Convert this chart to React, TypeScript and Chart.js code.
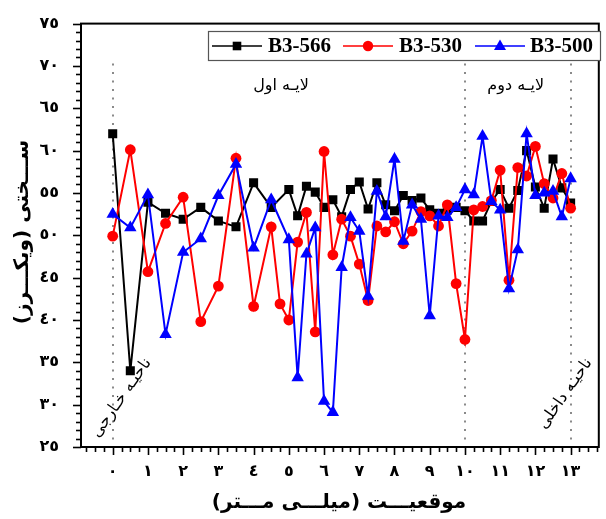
import React, { useEffect, useRef } from 'react';
import { Chart, registerables } from 'chart.js';

Chart.register(...registerables);

const AR_DIGITS = ['٠', '١', '٢', '٣', '٤', '٥', '٦', '٧', '٨', '٩'];
const toArabic = (n: number) => String(n).replace(/[0-9]/g, (d) => AR_DIGITS[+d]);

// ---- axes ----
const xTicks = [0, 1, 2, 3, 4, 5, 6, 7, 8, 9, 10, 11, 12, 13];
const yTicks = [25, 30, 35, 40, 45, 50, 55, 60, 65, 70, 75];
const xTitle = 'موقعیـــت (میلـــی مـــتر)';
const yTitle = 'ســـختی (ویکـــرز)';

// ---- series ----
const seriesNames = ['B3-566', 'B3-530', 'B3-500'];

const b566X = [0, 0.5, 1, 1.5, 2, 2.5, 3, 3.5, 4, 4.5, 5, 5.25, 5.5, 5.75, 6, 6.25, 6.5, 6.75, 7, 7.25, 7.5, 7.75, 8, 8.25, 8.5, 8.75, 9, 9.25, 9.5, 9.75, 10, 10.25, 10.5, 10.75, 11, 11.25, 11.5, 11.75, 12, 12.25, 12.5, 12.75, 13];
const b566Y = [62, 34, 53.9, 52.6, 51.9, 53.3, 51.7, 51.0, 56.2, 53.3, 55.4, 52.3, 55.8, 55.1, 53.3, 54.2, 52.2, 55.4, 56.3, 53.1, 56.2, 53.6, 52.9, 54.7, 54.1, 54.4, 53.0, 52.6, 53.0, 53.3, 52.9, 51.7, 51.7, 54.0, 55.4, 53.2, 55.3, 60.0, 55.7, 53.2, 59.0, 55.6, 53.8];

const b530X = [0, 0.5, 1, 1.5, 2, 2.5, 3, 3.5, 4, 4.5, 4.75, 5, 5.25, 5.5, 5.75, 6, 6.25, 6.5, 6.75, 7, 7.25, 7.5, 7.75, 8, 8.25, 8.5, 8.75, 9, 9.25, 9.5, 9.75, 10, 10.25, 10.5, 10.75, 11, 11.25, 11.5, 11.75, 12, 12.25, 12.5, 12.75, 13];
const b530Y = [49.9, 60.1, 45.7, 51.4, 54.5, 39.8, 44.0, 59.1, 41.6, 51.0, 41.9, 40.0, 49.2, 52.7, 38.6, 59.9, 47.7, 51.9, 49.9, 46.6, 42.3, 51.1, 50.4, 51.6, 49.0, 50.5, 52.8, 52.3, 51.1, 53.6, 44.3, 37.7, 53.0, 53.4, 54.1, 57.7, 44.7, 58.0, 57.0, 60.5, 56.1, 54.4, 57.3, 53.2];

const b500X = [0, 0.5, 1, 1.5, 2, 2.5, 3, 3.5, 4, 4.5, 5, 5.25, 5.5, 5.75, 6, 6.25, 6.5, 6.75, 7, 7.25, 7.5, 7.75, 8, 8.25, 8.5, 8.75, 9, 9.25, 9.5, 9.75, 10, 10.25, 10.5, 10.75, 11, 11.25, 11.5, 11.75, 12, 12.25, 12.5, 12.75, 13];
const b500Y = [52.5, 50.9, 54.8, 38.3, 48.0, 49.6, 54.7, 58.4, 48.5, 54.2, 49.5, 33.2, 47.8, 50.9, 30.4, 29.1, 46.2, 52.1, 50.5, 42.8, 55.2, 52.2, 59.0, 49.3, 53.6, 51.9, 40.5, 52.3, 52.1, 53.3, 55.4, 54.8, 61.7, 54.0, 53.0, 43.7, 48.3, 62.0, 54.7, 55.0, 55.2, 52.2, 56.7];

// ---- zone dividers & labels ----
const dividerX = [0, 10, 13];
const dividerTop = 70.3;
const layerLabels = [
  { text: 'لایـه اول', x: 4.78, y: 67.7 },
  { text: 'لایـه دوم', x: 11.44, y: 67.7 },
];
const zoneLabels = [
  { text: 'ناحیـه خـارجی', x: 0.25, y: 30.8 },
  { text: 'ناحیـه داخلی', x: 12.85, y: 31.3 },
];

const COLORS = ['#000000', '#ff0000', '#0000ff'];
const STYLES = ['rect', 'circle', 'triangle'];
const RADII = [6.4, 5.4, 7.2];

const ARABIC_FONT = '"DejaVu Sans", sans-serif';

const toPoints = (xs: number[], ys: number[]) => xs.map((x, i) => ({ x, y: ys[i] }));

function drawMarker(ctx: CanvasRenderingContext2D, style: string, x: number, y: number, color: string) {
  ctx.fillStyle = color;
  ctx.beginPath();
  if (style === 'rect') {
    ctx.rect(x - 4.3, y - 4.3, 8.6, 8.6);
  } else if (style === 'circle') {
    ctx.arc(x, y, 5.2, 0, Math.PI * 2);
  } else {
    ctx.moveTo(x, y - 6.5);
    ctx.lineTo(x + 6, y + 4);
    ctx.lineTo(x - 6, y + 4);
    ctx.closePath();
  }
  ctx.fill();
}

const decorPlugin = {
  id: 'decor',
  beforeDatasetsDraw(chart: any) {
    const { ctx, chartArea: a, scales } = chart;
    const xs = scales.x, ys = scales.y;
    ctx.save();
    ctx.strokeStyle = '#8a8a8a';
    ctx.lineWidth = 2;
    ctx.setLineDash([2, 6.5]);
    for (const v of dividerX) {
      const px = Math.round(xs.getPixelForValue(v));
      ctx.beginPath();
      ctx.moveTo(px, ys.getPixelForValue(dividerTop));
      ctx.lineTo(px, a.bottom);
      ctx.stroke();
    }
    ctx.restore();
  },
  afterDatasetsDraw(chart: any) {
    const { ctx, scales } = chart;
    const xs = scales.x, ys = scales.y;
    ctx.save();
    ctx.direction = 'rtl';
    ctx.fillStyle = '#000';
    ctx.textAlign = 'center';
    ctx.textBaseline = 'middle';
    ctx.font = `16px ${ARABIC_FONT}`;
    for (const l of layerLabels) {
      ctx.fillText(l.text, xs.getPixelForValue(l.x), ys.getPixelForValue(l.y));
    }
    for (const l of zoneLabels) {
      ctx.save();
      ctx.translate(xs.getPixelForValue(l.x), ys.getPixelForValue(l.y));
      ctx.rotate(-55 * Math.PI / 180);
      ctx.fillText(l.text, 0, 0);
      ctx.restore();
    }
    ctx.restore();
  },
  afterDraw(chart: any) {
    const { ctx, chartArea: a, scales } = chart;
    const xs = scales.x, ys = scales.y;
    ctx.save();
    // frame
    ctx.strokeStyle = '#000';
    ctx.lineWidth = 2;
    ctx.strokeRect(a.left, a.top, a.right - a.left, a.bottom - a.top);
    // y ticks
    ctx.lineWidth = 1.6;
    for (let v = 25; v <= 75; v += 1) {
      const py = Math.round(ys.getPixelForValue(v)) + 0.5;
      const len = v % 5 === 0 ? 8 : 5;
      ctx.beginPath();
      ctx.moveTo(a.left - len, py);
      ctx.lineTo(a.left, py);
      ctx.stroke();
    }
    // x ticks
    for (let k = -3; k <= 55; k++) {
      const v = k * 0.25;
      if (v < xs.min || v > xs.max) continue;
      const px = Math.round(xs.getPixelForValue(v)) + 0.5;
      const len = k % 4 === 0 ? 8 : 5;
      ctx.beginPath();
      ctx.moveTo(px, a.bottom);
      ctx.lineTo(px, a.bottom + len);
      ctx.stroke();
    }
    // axis titles
    ctx.direction = 'rtl';
    ctx.fillStyle = '#000';
    ctx.textAlign = 'center';
    ctx.textBaseline = 'middle';
    ctx.font = `bold 20px ${ARABIC_FONT}`;
    ctx.fillText(xTitle, 339, 503);
    ctx.save();
    ctx.translate(23, 232);
    ctx.rotate(-Math.PI / 2);
    ctx.fillText(yTitle, 0, 0);
    ctx.restore();

    // legend
    ctx.direction = 'ltr';
    ctx.fillStyle = '#fff';
    ctx.fillRect(208, 31, 392, 30);
    ctx.strokeStyle = '#555';
    ctx.lineWidth = 1.2;
    ctx.strokeRect(208.5, 31.5, 392, 29);
    const lineStarts = [212, 343, 475];
    const textStarts = [268, 399, 530];
    ctx.font = 'bold 21px "Liberation Serif", "Times New Roman", serif';
    ctx.textAlign = 'left';
    ctx.textBaseline = 'middle';
    for (let i = 0; i < 3; i++) {
      const y = 46;
      ctx.strokeStyle = COLORS[i];
      ctx.lineWidth = 1.5;
      ctx.beginPath();
      ctx.moveTo(lineStarts[i], y);
      ctx.lineTo(lineStarts[i] + 50, y);
      ctx.stroke();
      drawMarker(ctx, STYLES[i], lineStarts[i] + 25, y, COLORS[i]);
      ctx.fillStyle = '#000';
      ctx.fillText(seriesNames[i], textStarts[i], y + 1);
    }
    ctx.restore();
  },
};

export default function App() {
  const canvasRef = useRef<HTMLCanvasElement | null>(null);

  useEffect(() => {
    const canvas = canvasRef.current;
    if (!canvas) return;
    const seriesData = [toPoints(b566X, b566Y), toPoints(b530X, b530Y), toPoints(b500X, b500Y)];
    const chart = new Chart(canvas, {
      type: 'line',
      data: {
        datasets: seriesNames.map((name, i) => ({
          label: name,
          data: seriesData[i],
          borderColor: COLORS[i],
          backgroundColor: COLORS[i],
          pointBackgroundColor: COLORS[i],
          pointBorderColor: COLORS[i],
          pointBorderWidth: 0,
          pointStyle: STYLES[i] as any,
          pointRadius: RADII[i],
          borderWidth: 2,
          tension: 0,
          fill: false,
          order: 3 - i,
        })),
      },
      options: {
        animation: false,
        responsive: false,
        devicePixelRatio: 1,
        layout: { padding: { left: 0, right: 2, top: 23, bottom: 0 } },
        plugins: {
          legend: { display: false },
          tooltip: { enabled: false },
        },
        scales: {
          x: {
            type: 'linear',
            min: -0.9,
            max: 13.8,
            afterBuildTicks: (s: any) => {
              s.ticks = xTicks.map((v) => ({ value: v }));
            },
            afterFit: (s: any) => {
              s.height = 72;
            },
            grid: { display: false },
            border: { display: false },
            ticks: {
              autoSkip: false,
              maxRotation: 0,
              padding: 7,
              color: '#000',
              font: { family: ARABIC_FONT, size: 16, weight: 'bold' },
              callback: (v: any) => toArabic(Number(v)),
            },
          },
          y: {
            type: 'linear',
            min: 25,
            max: 75,
            afterBuildTicks: (s: any) => {
              s.ticks = yTicks.map((v) => ({ value: v }));
            },
            afterFit: (s: any) => {
              s.width = 81;
            },
            grid: { display: false },
            border: { display: false },
            ticks: {
              padding: 14,
              color: '#000',
              font: { family: ARABIC_FONT, size: 16, weight: 'bold' },
              callback: (v: any) => toArabic(Number(v)),
            },
          },
        },
      },
      plugins: [decorPlugin],
    } as any);
    return () => chart.destroy();
  }, []);

  return (
    <div style={{ position: 'absolute', left: 0, top: 0, width: 606, height: 519, background: '#fff' }}>
      <canvas ref={canvasRef} width={606} height={519} style={{ display: 'block', width: 606, height: 519 }} />
    </div>
  );
}
